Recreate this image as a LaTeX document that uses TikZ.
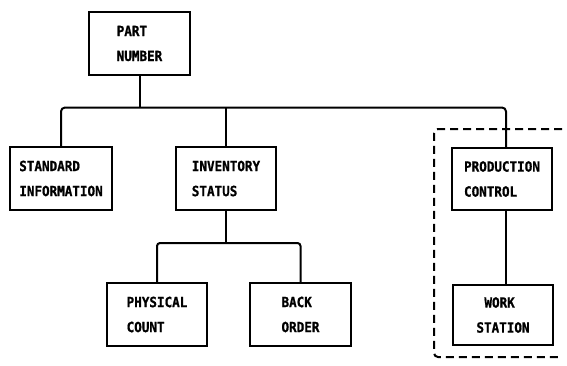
\documentclass[tikz,border=0pt]{standalone}
\usepackage{fontspec}
\newfontfamily\typefont[FakeStretch=0.9,FakeBold=1]{DejaVu Sans Mono}
\begin{document}
\begin{tikzpicture}[x=1pt,y=-1pt,
  box/.style={draw, line width=2pt, minimum width=100pt, minimum height=63pt,
    inner sep=0pt, align=left, font=\typefont\bfseries\fontsize{14}{25}\selectfont},
  conn/.style={line width=2pt},
  frame/.style={line width=2pt, dash pattern=on 8pt off 5pt}]
\useasboundingbox (0,0) rectangle (567,365);
\node[box, minimum width=101pt] (part) at (139.5,43.5) {PART\\NUMBER};
\node[box, minimum width=102pt] (std) at (61,178.5) {STANDARD\\INFORMATION};
\node[box] (inv) at (226,178.5) {INVENTORY\\STATUS};
\node[box, minimum height=62pt] (prod) at (502,179) {PRODUCTION\\CONTROL};
\node[box] (phys) at (157,314.5) {PHYSICAL\\COUNT};
\node[box, minimum width=101pt] (back) at (300.5,314.5) {BACK\\ORDER};
\node[box, minimum height=60pt] (work) at (503,315) {\hspace{8pt}WORK\\STATION};
\coordinate (bus) at (139,107.5);
\coordinate (busr) at (506,107.5);
\coordinate (bus2) at (228,243);
\draw[conn] (part) -- (part |- bus);
\draw[conn, rounded corners=4pt] (std.north) |- (busr) -- (prod.north -| busr);
\draw[conn] (inv.north) -- (inv.north |- bus);
\draw[conn] (inv.south) -- (inv.south |- bus2);
\draw[conn, rounded corners=3pt] (phys.north) |- (back.north |- bus2) -- (back.north);
\draw[conn] (prod.south -| busr) -- (work.north -| busr);
\coordinate (fa) at (575,129);
\coordinate (fb) at (434,357);
\coordinate (fc) at (558,357);
\draw[frame, rounded corners=4pt] (fa) -| (fb) -- (fc);
\end{tikzpicture}
\end{document}
